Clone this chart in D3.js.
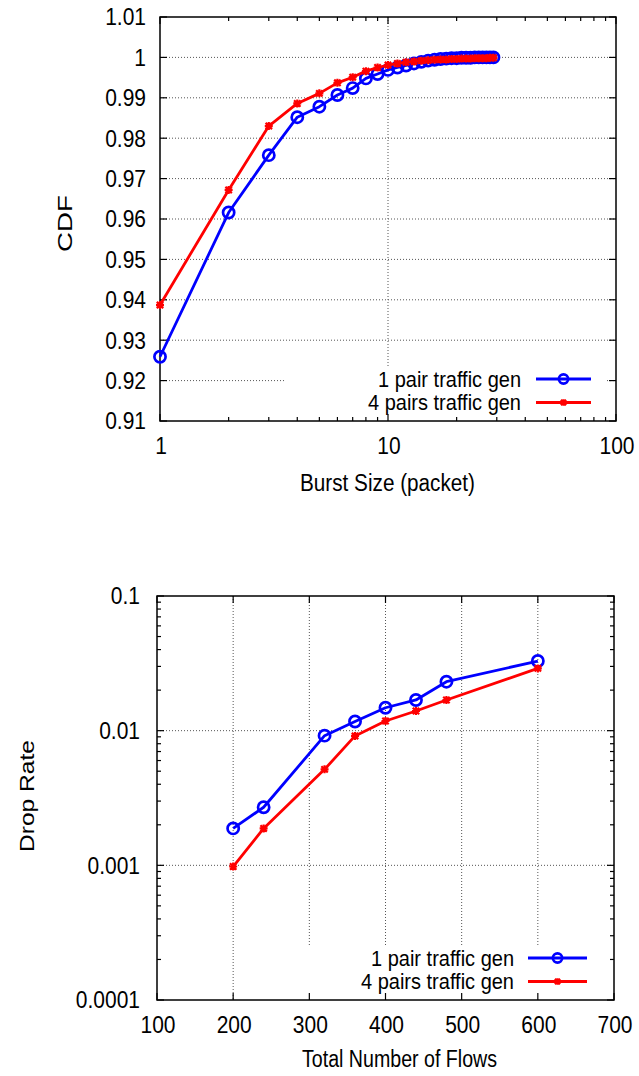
<!DOCTYPE html>
<html>
<head>
<meta charset="utf-8">
<script src="https://cdn.jsdelivr.net/npm/d3@7"></script>
<style>
  html, body { margin: 0; padding: 0; background: #fff; }
  svg { display: block; }
  text { font-family: "Liberation Sans", Arial, Helvetica, sans-serif; fill: #000; }
</style>
</head>
<body>
<svg id="fig" width="639" height="1076"></svg>
<script>
// ---- Burst size CDF ----
const burstSizes = [1, 2, 3, 4, 5, 6, 7, 8, 9, 10, 11, 12, 13, 14, 15, 16, 17, 18, 19, 20,
                    21, 22, 23, 24, 25, 26, 27, 28, 29];
const cdfOnePair = [0.9259, 0.9616, 0.9758, 0.9852, 0.9878, 0.9907, 0.9924, 0.9948, 0.9959, 0.9969,
                    0.9975, 0.9980, 0.9985, 0.9989, 0.9992, 0.9994, 0.9996, 0.9997, 0.9998, 0.9998,
                    0.9999, 0.9999, 0.9999, 1.0000, 1.0000, 1.0000, 1.0000, 1.0000, 1.0000];
const cdfFourPairs = [0.9387, 0.9672, 0.9830, 0.9886, 0.9911, 0.9937, 0.9951, 0.9966, 0.9975, 0.9981,
                      0.9985, 0.9988, 0.9990, 0.9992, 0.9993, 0.9994, 0.9995, 0.9995, 0.9996, 0.9996,
                      0.9997, 0.9997, 0.9997, 0.9998, 0.9998, 0.9998, 0.9998, 0.9999, 0.9999];
const cdfYTicks = [0.91, 0.92, 0.93, 0.94, 0.95, 0.96, 0.97, 0.98, 0.99, 1.00, 1.01];
const cdfYLabels = ["0.91", "0.92", "0.93", "0.94", "0.95", "0.96", "0.97", "0.98", "0.99", "1", "1.01"];
const cdfXTicks = [1, 10, 100];
const cdfXLabels = ["1", "10", "100"];

// ---- Drop rate vs number of flows ----
const flowCounts = [200, 240, 320, 360, 400, 440, 480, 600];
const dropOnePair = [0.00188, 0.0027, 0.00918, 0.0117, 0.0148, 0.0169, 0.0231, 0.0329];
const dropFourPairs = [0.00098, 0.00188, 0.00516, 0.00914, 0.0118, 0.0140, 0.0169, 0.0290];
const flowXTicks = [100, 200, 300, 400, 500, 600, 700];
const dropYTicks = [0.0001, 0.001, 0.01, 0.1];
const dropYLabels = ["0.0001", "0.001", "0.01", "0.1"];

const seriesNames = ["1 pair traffic gen", "4 pairs traffic gen"];
const BLUE = "#0000ff", RED = "#ff0000";

const svg = d3.select("#fig");

// minor ticks 2..9 within each decade of [lo, hi]
function logMinor(lo, hi) {
  const out = [];
  for (let d = lo; d < hi; d *= 10) for (let k = 2; k <= 9; k++) out.push(d * k);
  return out;
}

// text drawn slightly taller than wide, as in the original figure
function label(g, x, y, str, o) {
  return g.append("text")
    .attr("transform", `translate(${x},${y}) scale(1,${o.sy || 1.12})`)
    .attr("text-anchor", o.anchor || "middle")
    .attr("font-size", o.fs || 21)
    .text(str);
}

function drawMarkers(g, pts, kind, color, r) {
  if (kind === "circle") {
    g.selectAll(null).data(pts).join("circle")
      .attr("cx", d => d[0]).attr("cy", d => d[1]).attr("r", r)
      .attr("fill", "none").attr("stroke", color).attr("stroke-width", 2.7);
  } else {
    const s = r, c = r * 0.8;
    g.selectAll(null).data(pts).join("path")
      .attr("d", d => `M${d[0]-s},${d[1]}H${d[0]+s}M${d[0]},${d[1]-s}V${d[1]+s}` +
                      `M${d[0]-c},${d[1]-c}L${d[0]+c},${d[1]+c}M${d[0]-c},${d[1]+c}L${d[0]+c},${d[1]-c}`)
      .attr("fill", "none").attr("stroke", color).attr("stroke-width", 2.2);
  }
}

function drawPanel(cfg) {
  const { L, R, T, B, x, y } = cfg;
  const g = svg.append("g");

  // grid
  const grid = g.append("g").attr("stroke", "#555").attr("stroke-width", 1)
    .attr("stroke-dasharray", "1,2").attr("fill", "none");
  cfg.gridX.forEach(v => grid.append("line").attr("x1", x(v)).attr("x2", x(v)).attr("y1", T).attr("y2", B));
  cfg.gridY.forEach(v => grid.append("line").attr("x1", L).attr("x2", R).attr("y1", y(v)).attr("y2", y(v)));

  // key backdrop hides the grid behind the legend
  g.append("rect").attr("x", cfg.key.boxX0).attr("y", cfg.key.boxY0)
    .attr("width", cfg.key.boxX1 - cfg.key.boxX0).attr("height", B - cfg.key.boxY0)
    .attr("fill", "#fff");

  // ticks, mirrored on all four sides, pointing inward
  const tk = g.append("g").attr("stroke", "#000").attr("stroke-width", 1.2);
  cfg.xMajor.forEach(v => {
    tk.append("line").attr("x1", x(v)).attr("x2", x(v)).attr("y1", B).attr("y2", B - 7);
    tk.append("line").attr("x1", x(v)).attr("x2", x(v)).attr("y1", T).attr("y2", T + 7);
  });
  cfg.xMinor.forEach(v => {
    tk.append("line").attr("x1", x(v)).attr("x2", x(v)).attr("y1", B).attr("y2", B - 4);
    tk.append("line").attr("x1", x(v)).attr("x2", x(v)).attr("y1", T).attr("y2", T + 4);
  });
  cfg.yMajor.forEach(v => {
    tk.append("line").attr("x1", L).attr("x2", L + 7).attr("y1", y(v)).attr("y2", y(v));
    tk.append("line").attr("x1", R).attr("x2", R - 7).attr("y1", y(v)).attr("y2", y(v));
  });
  cfg.yMinor.forEach(v => {
    tk.append("line").attr("x1", L).attr("x2", L + 4).attr("y1", y(v)).attr("y2", y(v));
    tk.append("line").attr("x1", R).attr("x2", R - 4).attr("y1", y(v)).attr("y2", y(v));
  });

  // frame
  g.append("rect").attr("x", L).attr("y", T).attr("width", R - L).attr("height", B - T)
    .attr("fill", "none").attr("stroke", "#000").attr("stroke-width", 1.5);

  // tick labels
  const tl = g.append("g");
  cfg.xMajor.forEach((v, i) => label(tl, x(v) + 1, B + 33, cfg.xLabels[i], {}));
  cfg.yMajor.forEach((v, i) => label(tl, cfg.yLabelX, y(v) + 8.3, cfg.yLabels[i], { anchor: "end" }));

  // axis titles
  label(g, cfg.xTitle[0], cfg.xTitle[1], cfg.xTitleText, { anchor: "start" })
    .attr("textLength", cfg.xTitle[2]).attr("lengthAdjust", "spacingAndGlyphs");
  g.append("text").attr("transform", `translate(${cfg.yTitle[0]},${cfg.yTitle[1]}) rotate(-90)`)
    .attr("text-anchor", "middle").attr("font-size", 21)
    .attr("textLength", cfg.yTitle[2]).attr("lengthAdjust", "spacingAndGlyphs")
    .text(cfg.yTitleText);

  // series
  const line = d3.line();
  cfg.series.forEach(s => {
    const pts = cfg.xs.map((v, i) => [x(v), y(s.values[i])]);
    g.append("path").attr("d", line(pts)).attr("fill", "none").attr("stroke", s.color)
      .attr("stroke-width", 2.8).attr("stroke-linejoin", "round");
    drawMarkers(g.append("g"), pts, s.marker, s.color, s.marker === "circle" ? 5.6 : 4);
  });

  // key
  cfg.series.forEach((s, i) => {
    const ly = cfg.key.rowY[i];
    label(g, cfg.key.textX, ly + 7.5, seriesNames[i], { anchor: "end", fs: 20, sy: 1.1 });
    g.append("line").attr("x1", cfg.key.lineX0).attr("x2", cfg.key.lineX1)
      .attr("y1", ly).attr("y2", ly).attr("stroke", s.color).attr("stroke-width", 2.8);
    drawMarkers(g.append("g"), [[(cfg.key.lineX0 + cfg.key.lineX1) / 2, ly]], s.marker, s.color,
      s.marker === "circle" ? 4.6 : 3.3);
  });
}

// top panel
{
  const L = 160, R = 616, T = 17, B = 421;
  const x = d3.scaleLog().domain([1, 100]).range([L, R]);
  const y = d3.scaleLinear().domain([0.91, 1.01]).range([B, T]);
  drawPanel({
    L, R, T, B, x, y,
    gridX: [10], gridY: cdfYTicks.slice(1, -1),
    xMajor: cdfXTicks, xMinor: logMinor(1, 100), xLabels: cdfXLabels,
    yMajor: cdfYTicks, yMinor: [], yLabels: cdfYLabels,
    yLabelX: 146,
    xTitle: [300, 490.5, 175], xTitleText: "Burst Size (packet)",
    yTitle: [71.5, 223.5, 57], yTitleText: "CDF",
    xs: burstSizes,
    series: [
      { values: cdfOnePair, color: BLUE, marker: "circle" },
      { values: cdfFourPairs, color: RED, marker: "star" }
    ],
    key: { boxX0: 285, boxX1: 605, boxY0: 366, textX: 521, lineX0: 536, lineX1: 591, rowY: [379, 402.5] }
  });
}

// bottom panel
{
  const L = 157, R = 614, T = 596, B = 1000;
  const x = d3.scaleLinear().domain([100, 700]).range([L, R]);
  const y = d3.scaleLog().domain([0.0001, 0.1]).range([B, T]);
  drawPanel({
    L, R, T, B, x, y,
    gridX: flowXTicks.slice(1, -1), gridY: [0.01, 0.001],
    xMajor: flowXTicks, xMinor: [], xLabels: flowXTicks.map(String),
    yMajor: dropYTicks, yMinor: logMinor(0.0001, 0.1), yLabels: dropYLabels,
    yLabelX: 140,
    xTitle: [302, 1066.5, 195], xTitleText: "Total Number of Flows",
    yTitle: [33.5, 796, 112], yTitleText: "Drop Rate",
    xs: flowCounts,
    series: [
      { values: dropOnePair, color: BLUE, marker: "circle" },
      { values: dropFourPairs, color: RED, marker: "star" }
    ],
    key: { boxX0: 268, boxX1: 600, boxY0: 945, textX: 514, lineX0: 528, lineX1: 587, rowY: [958, 981.5] }
  });
}
</script>
</body>
</html>
